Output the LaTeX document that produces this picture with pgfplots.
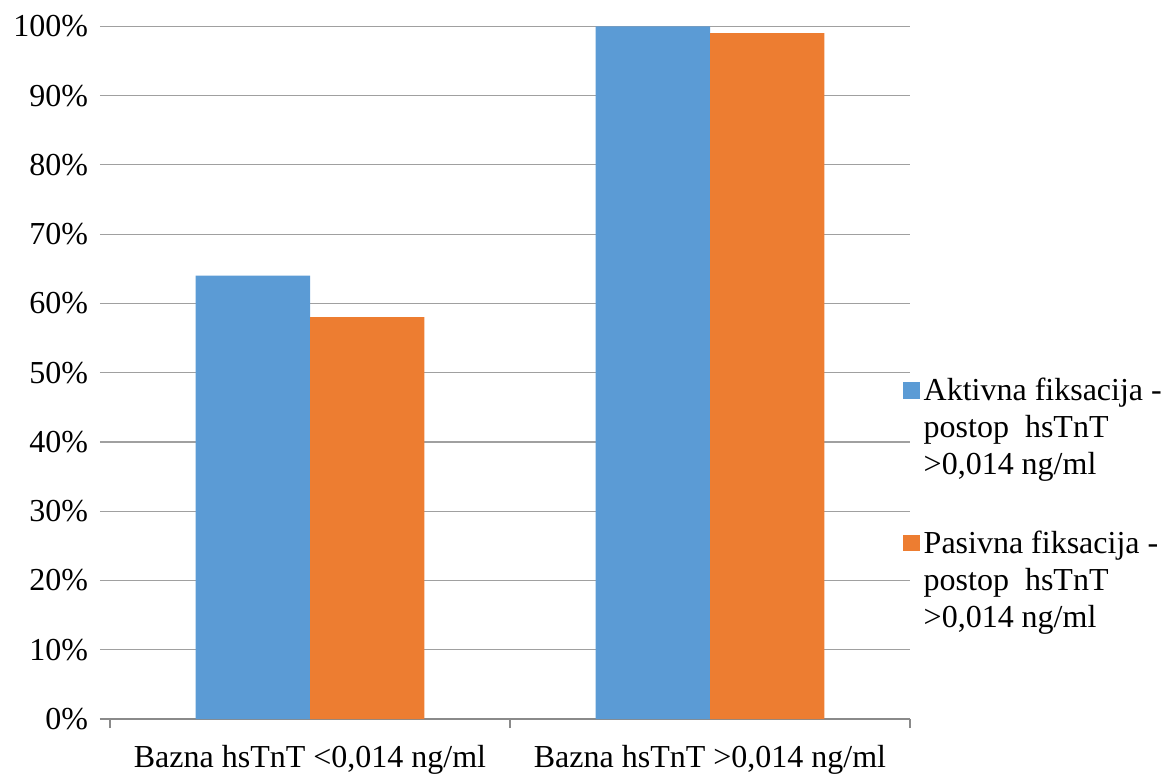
\documentclass[border=0pt]{standalone}
\usepackage{pgfplots}
\pgfplotsset{compat=1.18}
\usepackage{fontspec}
\setmainfont{Liberation Serif}
\definecolor{cblue}{HTML}{5B9BD5}
\definecolor{corange}{HTML}{ED7D31}
\definecolor{gridgray}{HTML}{A0A0A0}
\definecolor{axisgray}{HTML}{8A8A8A}
\newcommand{\legtext}[1]{\parbox[t]{130pt}{\raggedright #1}}
\begin{document}
\begin{tikzpicture}
\path[use as bounding box] (-50pt,-27pt) rectangle (533.5pt,359.5pt);
\begin{axis}[
  at={(0pt,0pt)}, anchor=south west,
  scale only axis, width=405pt, height=346.35pt,
  xmin=-0.525, xmax=1.5, ymin=0, ymax=100,
  axis x line*=bottom, axis y line*=left,
  x axis line style={axisgray, line width=0.6pt},
  y axis line style={draw=none},
  xtick={-0.5,0.5,1.5}, xticklabels={},
  extra x ticks={0,1},
  extra x tick labels={{Bazna hsTnT <0,014 ng/ml}, {Bazna hsTnT >0,014 ng/ml}},
  extra x tick style={major tick length=0pt, grid=none, xticklabel style={anchor=base, yshift=-24pt}},
  x tick style={axisgray, line width=0.6pt},
  tick align=outside, major tick length=4.5pt,
  ytick={0,10,...,100},
  yticklabel={\pgfmathprintnumber{\tick}\%},
  yticklabel style={xshift=2pt},
  ytick style={draw=none},
  ymajorgrids, major grid style={gridgray, line width=0.6pt},
  tick label style={font=\fontsize{16}{18.5}\selectfont},
  /pgf/number format/assume math mode=true,
  legend style={draw=none, fill=none, at={(0.991,0.498)}, anchor=north west,
    inner sep=0pt, font=\fontsize{16}{18.35}\selectfont, row sep=59.65pt},
  legend cell align=left,
  legend image code/.code={\fill[#1] (0pt,-3.7pt) rectangle (8.3pt,4.6pt);},
]
\addplot[ybar, bar width=0.286, bar shift=-0.143, fill=cblue, draw=none] coordinates {(0,64) (1,100)};
\addplot[ybar, bar width=0.286, bar shift=0.143, fill=corange, draw=none] coordinates {(0,58) (1,99)};
\addlegendentry{\legtext{Aktivna fiksacija -\\postop\ \ hsTnT\\>0,014 ng/ml}}
\addlegendentry{\legtext{Pasivna fiksacija -\\postop\ \ hsTnT\\>0,014 ng/ml}}
\end{axis}
\end{tikzpicture}
\end{document}
